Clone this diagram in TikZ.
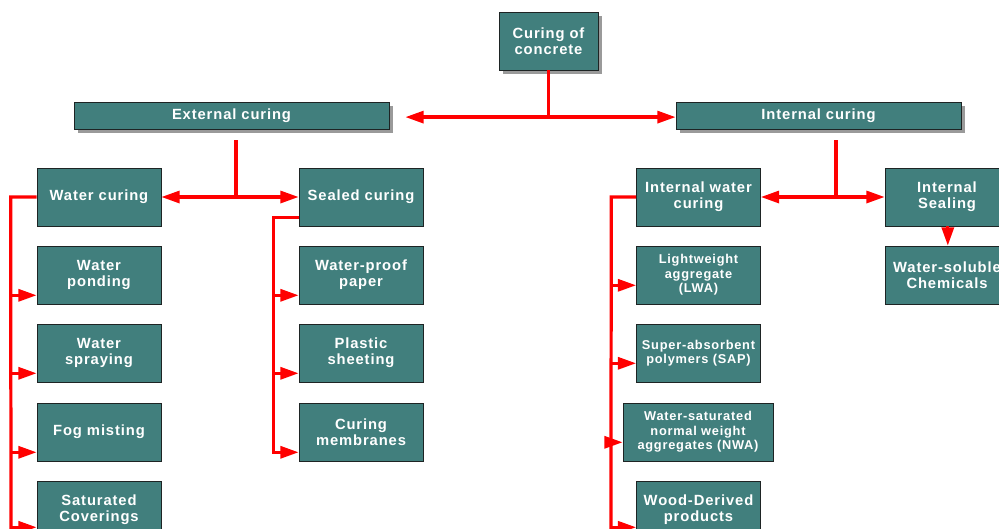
\documentclass[tikz,border=0pt]{standalone}
\usepackage{fontspec}
\setmainfont{Liberation Sans}[LetterSpace=6]
\usetikzlibrary{arrows.meta,positioning,shadows}
\definecolor{Verdeazul}{HTML}{417F7D}
\definecolor{Sombra}{HTML}{9A9A9A}
\definecolor{Borde}{HTML}{1E2424}
\definecolor{Rojo}{HTML}{FF0000}

\begin{document}
\begin{tikzpicture}[
  x=0.025cm, y=-0.025cm,
  >={Triangle[length=0.46cm,width=0.3cm]},
  every node/.style={font=\bfseries\fontsize{10.5}{11.6}\selectfont},
  box/.style={draw=Borde,fill=Verdeazul,text=white,align=center,
    minimum width=3.1cm,minimum height=1.45cm,inner sep=1pt},
  shadowed/.style={drop shadow={shadow xshift=0.11cm,shadow yshift=-0.11cm,
    fill=Sombra,opacity=1}},
  small/.style={font=\bfseries\fontsize{9.1}{10.4}\selectfont},
  link/.style={->,line width=2.3pt,draw=Rojo}
]
  \clip (0,0) rectangle (999,528);

  % top level
  \node[box,shadowed,minimum width=2.475cm] (root) at (548.5,41) {Curing of\\concrete};
  \node[box,shadowed,minimum width=7.875cm,minimum height=0.675cm] (ext) at (231.5,115.5) {External curing};
  \node[box,shadowed,minimum width=7.125cm,minimum height=0.675cm] (int) at (818.5,115.5) {Internal curing};
  \coordinate (rootjoin) at (548.5,117);
  \coordinate (extstub) at (236,140);
  \coordinate (intstub) at (836,140);

  % external curing
  \node[box] (wc) at (99,197) {Water curing};
  \node[box] (sc) at (361,197) {Sealed curing};
  \node[box] (wp) at (99,275) {Water\\ponding};
  \node[box] (ws) at (99,353) {Water\\spraying};
  \node[box] (fm) at (99,432) {Fog misting};
  \node[box] (sv) at (99,510) {Saturated\\Coverings};
  \node[box] (wpp) at (361,275) {Water-proof\\paper};
  \node[box] (ps) at (361,353) {Plastic\\sheeting};
  \node[box] (cm) at (361,432) {Curing\\membranes};
  \coordinate (ltrunk) at (11,545);

  % internal curing
  \node[box] (iwc) at (698.5,197) {Internal water\\curing};
  \node[box] (isl) at (947,197) {Internal\\Sealing};
  \node[box] (wsc) at (947,275) {Water-soluble\\Chemicals};
  \node[box,small] (lwa) at (698.5,275) {Lightweight\\aggregate\\(LWA)};
  \node[box,small] (sap) at (698.5,353) {Super-absorbent\\polymers (SAP)};
  \node[box,small,minimum width=3.75cm] (nwa) at (698,432) {Water-saturated\\normal weight\\aggregates (NWA)};
  \node[box] (wd) at (698.5,510) {Wood-Derived\\products};
  \coordinate (rtrunk) at (611,545);

  % connectors
  \draw[link,-] (root) -- (rootjoin);
  \draw[link,<->] ([xshift=0.4cm,yshift=-0.04cm]ext.east) -- ([yshift=-0.04cm]int.west);
  \draw[link,-] (extstub) -- (extstub |- wc);
  \draw[link,<->] (wc) -- (sc);
  \draw[link,-] (intstub) -- (intstub |- iwc);
  \draw[link,<->] (iwc) -- (isl);
  \draw[link] ([xshift=0.02cm]isl.south) -- ([xshift=0.02cm]wsc.north);

  \draw[link,-] (wc.west) -- ++(-26,0) -- (ltrunk);
  \foreach \n/\h in {wp/9,ws/9,fm/9,sv/12}
    \draw[link,<-] ([yshift=\h*0.025cm]\n.south west) -- ++(-26,0);

  \draw[link] ([yshift=0.225cm]sc.south west) -- ++(-25,0) |- ([yshift=0.225cm]cm.south west);
  \foreach \n in {wpp,ps}
    \draw[link,<-] ([yshift=0.225cm]\n.south west) -- ++(-25,0);

  \draw[link,-] (iwc.west) -- ++(-25,0) -- (rtrunk);
  \foreach \n/\h/\l in {lwa/19/25,sap/19/25,nwa/19/12,wd/12/25}
    \draw[link,<-] ([yshift=\h*0.025cm]\n.south west) -- ++(-\l,0);
\end{tikzpicture}
\end{document}
